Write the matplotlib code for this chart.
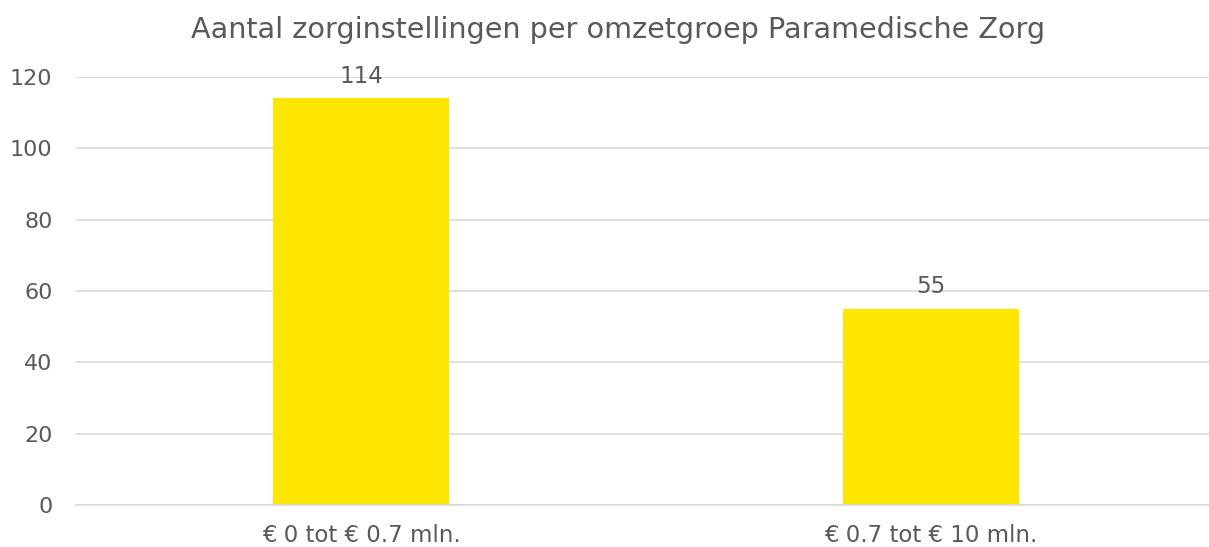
import matplotlib.pyplot as plt

plt.rcParams['font.family'] = ['DejaVu Sans']

categories = ['€ 0 tot € 0.7 mln.', '€ 0.7 tot € 10 mln.']
counts = [114, 55]

text_color = '#595959'
bar_color = '#FFE600'

fig = plt.figure(figsize=(12.09, 5.47), dpi=100)
ax = fig.add_axes([76 / 1209, 42 / 547, 1140 / 1209, 428 / 547])

x = range(len(categories))
bars = ax.bar(x, counts, width=0.31, color=bar_color, zorder=2)

for b, v in zip(bars, counts):
    ax.text(b.get_x() + b.get_width() / 2, v + 3, str(v), ha='center', va='bottom',
            fontsize=16.5, color=text_color)

ax.set_xlim(-0.5, 1.5)
ax.set_ylim(0, 120)
ax.set_yticks(range(0, 121, 20))
ax.set_xticks(list(x))
ax.set_xticklabels(categories)
ax.grid(axis='y', color='#d9d9d9', linewidth=1.2, zorder=0)
for s in ['top', 'right', 'left']:
    ax.spines[s].set_visible(False)
ax.spines['bottom'].set_color('#d9d9d9')
ax.spines['bottom'].set_linewidth(1.2)
ax.tick_params(axis='y', length=0, labelsize=16, colors=text_color, pad=17)
ax.tick_params(axis='x', length=0, labelsize=16.5, colors=text_color, pad=14)

fig.text(0.511, 0.945, 'Aantal zorginstellingen per omzetgroep Paramedische Zorg',
         ha='center', va='center', fontsize=20.6, color=text_color)

fig.savefig('out.png', dpi=100)
